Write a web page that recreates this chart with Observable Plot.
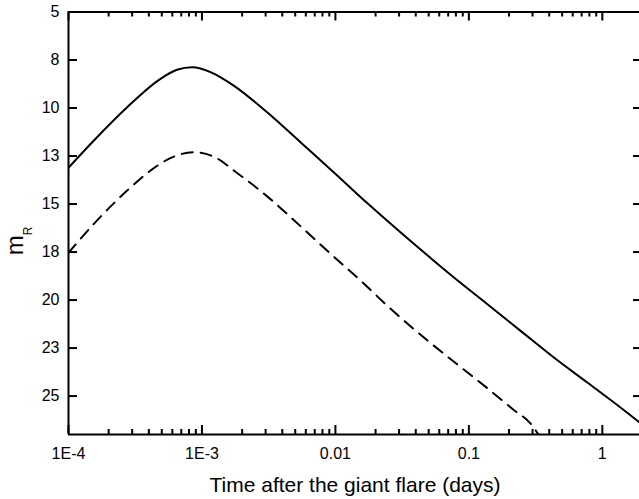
<!DOCTYPE html>
<html>
<head>
<meta charset="utf-8">
<script src="https://cdn.jsdelivr.net/npm/d3@7"></script>
<script src="https://cdn.jsdelivr.net/npm/@observablehq/plot@0.6"></script>
<style>
  html, body { margin: 0; padding: 0; background: #fff; overflow: hidden; }
  #chart svg { display: block; }
</style>
</head>
<body>
<div id="chart"></div>
<script>
// ---- data ----
const solidT = [1.0e-4, 1.55e-4, 2.75e-4, 4.89e-4, 6.5e-4, 8.45e-4, 1.16e-3, 1.38e-3, 1.73e-3, 3.08e-3, 5.47e-3, 9.7e-3, 1.73e-2, 3.07e-2, 5.15e-2, 7.69e-2, 0.137, 0.243, 0.431, 0.767, 1.36, 1.89, 2.0];
const solidM = [13.11, 11.69, 9.96, 8.48, 8.01, 7.88, 8.13, 8.40, 8.83, 10.22, 11.78, 13.34, 14.95, 16.47, 17.80, 18.81, 20.20, 21.59, 22.98, 24.28, 25.58, 26.36, 26.50];
const dashT = [1.0e-4, 1.55e-4, 2.75e-4, 4.11e-4, 6.15e-4, 8.7e-4, 1.3e-3, 1.73e-3, 3.08e-3, 5.47e-3, 9.2e-3, 1.54e-2, 2.58e-2, 4.58e-2, 7.69e-2, 0.137, 0.217, 0.289, 0.332];
const dashM = [17.54, 16.03, 14.30, 13.26, 12.53, 12.30, 12.62, 13.25, 14.60, 16.15, 17.59, 18.98, 20.44, 21.94, 23.20, 24.58, 25.72, 26.42, 27.00];

const xDomain = [1e-4, 2];
const yDomain = [5, 27];
const xTicks = [1e-4, 1e-3, 0.01, 0.1, 1];
const xTickLabels = ["1E-4", "1E-3", "0.01", "0.1", "1"];
const xMinorMultipliers = [2, 3, 4, 5, 6, 7, 8, 9];
const yTicks = [5, 7.5, 10, 12.5, 15, 17.5, 20, 22.5, 25];
const yTickLabels = ["5", "8", "10", "13", "15", "18", "20", "23", "25"];
const xTitle = "Time after the giant flare (days)";
const yTitleMain = "m";
const yTitleSub = "R";

// ---- build tables ----
const solid = solidT.map((t, i) => ({t, m: solidM[i]}));
const dashed = dashT.map((t, i) => ({t, m: dashM[i]}));
const xMinor = [];
for (const d of xTicks) for (const k of xMinorMultipliers) xMinor.push(d * k);

// ---- layout ----
const W = 639, H = 499;
const mL = 68, mT = 11.5, mB = 65, mR = 0;
const xRight = 642;              // right frame lies just outside the window
const plotH = H - mT - mB;
const plotW = W - mL - mR;
const major = 9, minor = 5;
const ink = "#000";
const font = "'Liberation Sans', Arial, sans-serif";

const chart = Plot.plot({
  width: W,
  height: H,
  marginLeft: mL,
  marginTop: mT,
  marginBottom: mB,
  marginRight: mR,
  style: {fontFamily: font, fontSize: "16px", color: ink, background: "#fff"},
  x: {type: "log", domain: xDomain, range: [mL, xRight]},
  y: {domain: yDomain, range: [mT, H - mB]},
  marks: [
    // axis lines
    Plot.ruleX([xDomain[0]], {stroke: ink, strokeWidth: 2}),
    Plot.ruleY([yDomain[0]], {stroke: ink, strokeWidth: 2}),
    Plot.ruleY([yDomain[1]], {stroke: ink, strokeWidth: 2}),
    // bottom ticks (inward)
    Plot.tickX(xTicks, {x: d => d, insetTop: plotH - major, stroke: ink, strokeWidth: 2}),
    Plot.tickX(xMinor, {x: d => d, insetTop: plotH - minor, stroke: ink, strokeWidth: 2}),
    // top ticks (inward)
    Plot.tickX(xTicks, {x: d => d, insetBottom: plotH - major, stroke: ink, strokeWidth: 2}),
    Plot.tickX(xMinor, {x: d => d, insetBottom: plotH - minor, stroke: ink, strokeWidth: 2}),
    // left ticks (inward)
    Plot.tickY(yTicks, {y: d => d, insetRight: plotW - major, stroke: ink, strokeWidth: 2}),
    // right ticks (inward, frame just off-window)
    Plot.tickY(yTicks, {y: d => d, insetLeft: plotW - (major - (xRight - W)), stroke: ink, strokeWidth: 2}),
    // tick labels
    Plot.axisX(xTicks, {tickSize: 0, tickPadding: 13, fontSize: 16, label: null,
      tickFormat: d => xTickLabels[xTicks.indexOf(d)]}),
    Plot.axisY(yTicks, {tickSize: 0, tickPadding: 9, fontSize: 16, label: null,
      tickFormat: d => yTickLabels[yTicks.indexOf(d)]}),
    // curves
    Plot.line(solid, {x: "t", y: "m", stroke: ink, strokeWidth: 2, curve: "monotone-x", clip: true}),
    Plot.line(dashed, {x: "t", y: "m", stroke: ink, strokeWidth: 2, strokeDasharray: "11,8", curve: "monotone-x", clip: true})
  ]
});

document.getElementById("chart").appendChild(chart);

// axis titles as real text
const svg = d3.select(chart);
const xr = chart.scale("x").range;
svg.append("text")
  .attr("x", (xr[0] + xr[1]) / 2)
  .attr("y", 492)
  .attr("text-anchor", "middle")
  .attr("font-family", font)
  .attr("font-size", 21)
  .attr("fill", ink)
  .text(xTitle);

const yt = svg.append("text")
  .attr("transform", `translate(23, 241) rotate(-90)`)
  .attr("text-anchor", "middle")
  .attr("font-family", font)
  .attr("font-size", 24)
  .attr("fill", ink);
yt.append("tspan").text(yTitleMain);
yt.append("tspan").attr("font-size", 12).attr("dy", 9).text(yTitleSub);
</script>
</body>
</html>
